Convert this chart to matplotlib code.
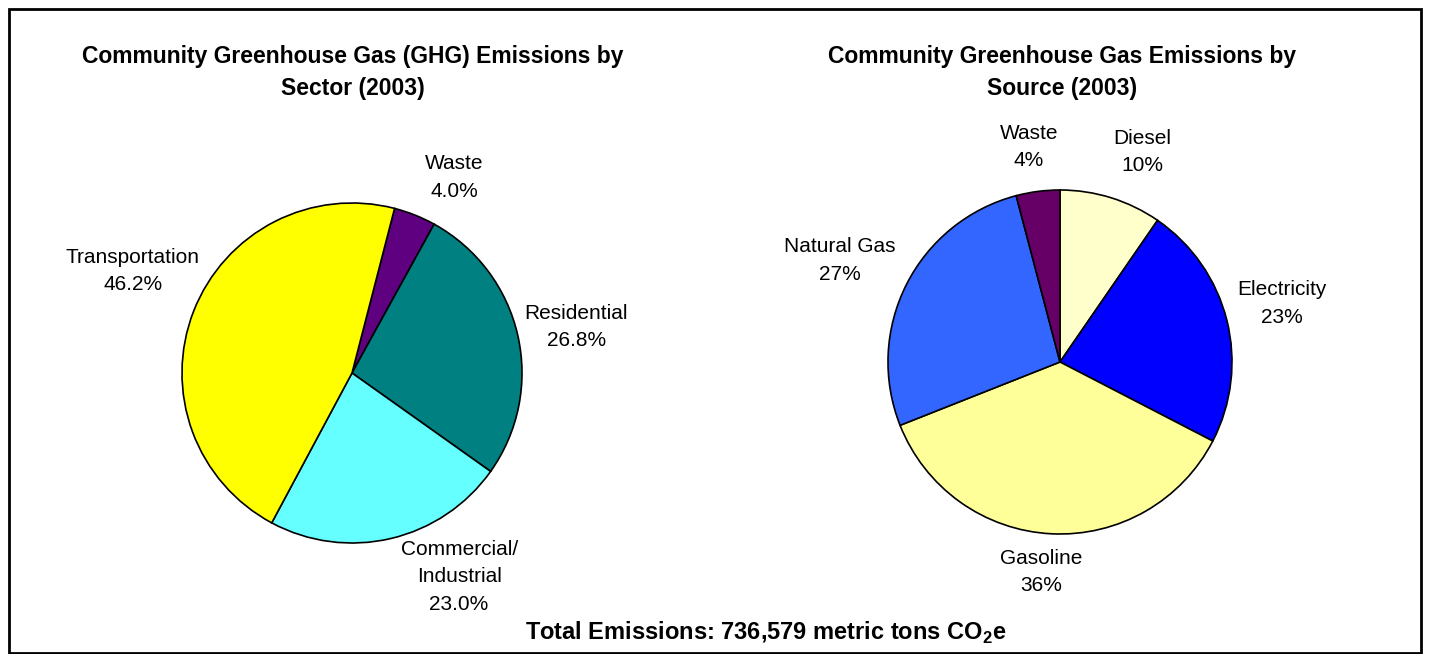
import matplotlib
matplotlib.use("Agg")
import matplotlib.pyplot as plt
from matplotlib.patches import Rectangle

plt.rcParams['font.family'] = ['Liberation Sans', 'DejaVu Sans']
plt.rcParams['mathtext.fontset'] = 'custom'
plt.rcParams['mathtext.rm'] = 'Liberation Sans'
plt.rcParams['mathtext.bf'] = 'Liberation Sans:bold'

# --- data -------------------------------------------------------------
sector_names = ["Waste", "Residential", "Commercial/\nIndustrial", "Transportation"]
sector_pct = [4.0, 26.8, 23.0, 46.2]

source_names = ["Diesel", "Electricity", "Gasoline", "Natural Gas", "Waste"]
source_pct = [9.6, 23.0, 36.4, 26.9, 4.1]

total_tons = 736579

# --- styles / layout --------------------------------------------------
sector_colors = ["#5E0080", "#008080", "#66FFFF", "#FFFF00"]
source_colors = ["#FFFFCC", "#0000FF", "#FFFF99", "#3366FF", "#660066"]

# label anchors in pie radius units (x, y)
sector_label_pos = [(0.60, 1.15), (1.32, 0.27), (0.63, -1.20), (-1.29, 0.60)]
source_label_pos = [(0.48, 1.22), (1.29, 0.34), (-0.11, -1.22), (-1.28, 0.59), (-0.18, 1.25)]

W, H = 1430, 654
fig = plt.figure(figsize=(W / 100, H / 100), dpi=100)


def pie_axes(cx, cy, r):
    # axes box in pixel terms -> figure fraction
    return fig.add_axes([(cx - r) / W, 1 - (cy + r) / H, 2 * r / W, 2 * r / H])


def draw_pie(ax, values, colors, names, pos, fmt, start):
    ax.pie(values, colors=colors, startangle=start, counterclock=False,
           wedgeprops=dict(edgecolor="black", linewidth=1.2))
    ax.set_xlim(-1.0, 1.0)
    ax.set_ylim(-1.0, 1.0)
    ax.set_aspect("auto")
    for name, v, (x, y) in zip(names, values, pos):
        ax.text(x, y, name + "\n" + fmt % v, ha="center", va="center",
                fontsize=15, linespacing=1.55, clip_on=False)


ax1 = pie_axes(352, 373, 170)
draw_pie(ax1, sector_pct, sector_colors, sector_names, sector_label_pos,
         "%.1f%%", 90 - 14.5)

ax2 = pie_axes(1060, 362, 172)
draw_pie(ax2, source_pct, source_colors, source_names, source_label_pos,
         "%.0f%%", 90)

# titles
fig.text(353 / W, 1 - 72 / H, "Community Greenhouse Gas (GHG) Emissions by\nSector (2003)",
         ha="center", va="center", fontsize=16.5, fontweight="bold", linespacing=1.5)
fig.text(1062 / W, 1 - 72 / H, "Community Greenhouse Gas Emissions by\nSource (2003)",
         ha="center", va="center", fontsize=16.5, fontweight="bold", linespacing=1.5)

fig.text(766 / W, 1 - 633 / H,
         "Total Emissions: {:,} metric tons CO$_\\mathbf{{2}}$e".format(total_tons),
         ha="center", va="center", fontsize=17, fontweight="bold")

# outer frame
fig.patches.append(Rectangle((9 / W, 1 / H), (W - 18) / W, (H - 10) / H,
                             transform=fig.transFigure, fill=False,
                             edgecolor="black", linewidth=2))

fig.savefig("out.png", dpi=100)
